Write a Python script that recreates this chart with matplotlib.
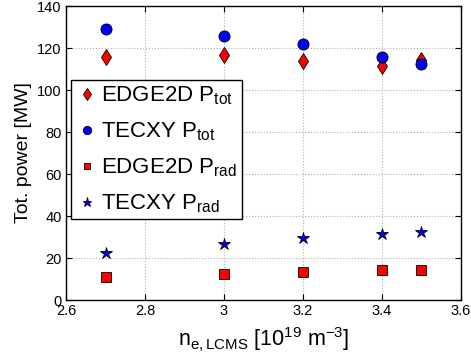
import numpy as np
import matplotlib.pyplot as plt

plt.rcParams['font.family'] = ['Liberation Sans', 'DejaVu Sans']
plt.rcParams['mathtext.fontset'] = 'custom'
plt.rcParams['mathtext.rm'] = 'Liberation Sans'
plt.rcParams['mathtext.it'] = 'Liberation Sans'

density = [2.7, 3.0, 3.2, 3.4, 3.5]
edge2d_ptot = [115.7, 116.7, 113.7, 111.4, 114.3]
tecxy_ptot = [128.9, 125.9, 121.7, 115.7, 112.5]
edge2d_prad = [11.1, 12.4, 13.2, 14.1, 14.4]
tecxy_prad = [22.2, 26.8, 29.4, 31.4, 32.4]

fig = plt.figure(figsize=(4.71, 3.61), dpi=100)
ax = fig.add_axes([66 / 471, 61 / 361, 395 / 471, 294 / 361])

ax.plot(density, edge2d_ptot, 'd', color='red', mec='black', mew=0.6, ms=8,
        label=r'EDGE2D P$_{\rm tot}$')
ax.plot(density, tecxy_ptot, 'o', color='blue', mec='black', mew=0.6, ms=8,
        label=r'TECXY P$_{\rm tot}$')
ax.plot(density, edge2d_prad, 's', color='red', mec='black', mew=0.6, ms=6.5,
        label=r'EDGE2D P$_{\rm rad}$')
ax.plot(density, tecxy_prad, '*', color='blue', mec='black', mew=0.6, ms=9,
        label=r'TECXY P$_{\rm rad}$')

ax.set_xlim(2.6, 3.6)
ax.set_ylim(0, 140)
ax.set_xticks(np.arange(2.6, 3.61, 0.2))
ax.set_xticklabels(['2.6', '2.8', '3', '3.2', '3.4', '3.6'])
ax.set_yticks(np.arange(0, 141, 20))
ax.grid(True, linestyle=':', color='#b0b0b0', linewidth=0.8)
ax.tick_params(direction='in', top=True, right=True, labelsize=10.5, length=4, pad=3)
for s in ax.spines.values():
    s.set_linewidth(1.0)

ax.set_xlabel(r'n$_{\rm e,LCMS}$ [10$^{19}$ m$^{-3}$]', fontsize=15.5, labelpad=5)
ax.set_ylabel('Tot. power [MW]', fontsize=14, labelpad=4)

leg = ax.legend(loc='upper left', bbox_to_anchor=(0.0127, 0.748), fontsize=16,
                fancybox=False, framealpha=1, edgecolor='black',
                handletextpad=0.15, handlelength=1.0, borderpad=0.2,
                labelspacing=0.6, markerscale=0.75, borderaxespad=0)
leg.get_frame().set_linewidth(1.0)

fig.savefig('out.png', dpi=100)
